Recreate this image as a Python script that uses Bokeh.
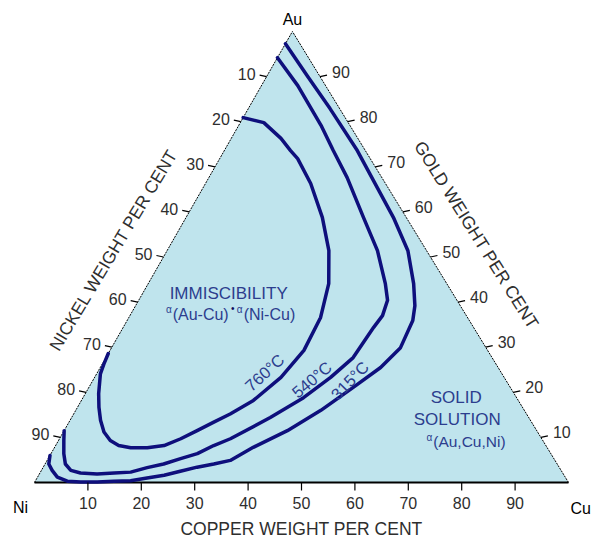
import numpy as np
from bokeh.plotting import figure
from bokeh.models import Range1d
from bokeh.embed import file_html
from bokeh.resources import INLINE
from bokeh.core.properties import value

# ---- data: isotherms as (Cu wt%, Au wt%); Ni = 100 - Cu - Au ----
iso760_cu = [0, 4.4, 9.3, 12.4, 14.6, 19.7, 25.5, 30.3, 33.8, 35.9, 36.3, 34.9, 32.2,
             29.3, 27.1, 24.9, 22.7, 20.3, 17.4, 14.3, 11.8, 9.7, 7.6, 5.7, 4.0, 2.5, 0.7, 0.3, 0]
iso760_au = [80.9, 79.8, 76.3, 73.6, 71.8, 66.3, 58.8, 51.4, 44.1, 36.6, 29.3, 23.3, 18.2,
             15.2, 13.4, 11.5, 9.7, 8.2, 7.7, 7.7, 8.2, 9.3, 11.2, 13.8, 16.7, 19.7, 24.1, 26.3, 28.6]

iso540_cu = [0, 6.8, 15.4, 20.4, 25.9, 33.2, 39.4, 44.4, 46.6, 47.3, 46.9, 46.3, 44.2, 41.3,
             37.2, 32.0, 29.6, 27.4, 24.8, 22.2, 19.5, 16.9, 13.9, 10.8, 7.6, 5.5, 3.8, 2.4, 1.0, 0]
iso540_au = [94.2, 88.0, 79.2, 73.6, 67.6, 58.8, 51.4, 44.1, 40.4, 37.0, 34.4, 27.7, 23.3, 18.8,
             14.4, 9.7, 8.2, 6.4, 5.3, 4.1, 3.3, 2.3, 2.1, 1.9, 2.1, 2.7, 4.1, 6.4, 9.3, 11.5]

iso315_cu = [0, 7.5, 15.3, 24.9, 32.6, 38.8, 45.1, 49.7, 52.3, 53.5, 54.1, 52.5, 49.5, 45.9,
             41.8, 37.2, 34.3, 31.6, 28.8, 26.1, 23.5, 20.6, 17.8, 14.7, 11.7, 8.6, 6.0, 3.7,
             2.0, 0.7, 0]
iso315_au = [97.3, 90.2, 82.9, 73.6, 65.4, 58.8, 51.4, 44.1, 39.2, 35.9, 29.9, 25.5, 21.1, 16.0,
             11.5, 7.8, 4.9, 4.1, 3.4, 2.5, 1.6, 1.0, 0.4, 0.3, 0.1, 0.1, 0.3, 1.2,
             2.7, 4.1, 6.0]

tick_values = [10, 20, 30, 40, 50, 60, 70, 80, 90]
tick_labels = [str(t) for t in tick_values]

# ---- ternary transform ----
K = 0.483            # horizontal position of the Au apex (fraction of base)
SX, SY = 5.34, 4.51  # pixels per unit in x and y


def tx(cu, au):
    return np.asarray(cu, dtype=float) + K * np.asarray(au, dtype=float)


def ty(cu, au):
    return np.asarray(au, dtype=float) + 0 * np.asarray(cu, dtype=float)


FONT = value("Liberation Sans")
BLUE_TXT = "#2c3d8e"
LINE = "#0e0f7c"
FILL = "#bfe4ed"
INK = "#2e2e2e"

p = figure(width=591, height=539,
           x_range=Range1d(-34 / SX, (591 - 34) / SX),
           y_range=Range1d(-(539 - 482) / SY, 482 / SY),
           x_axis_type=None, y_axis_type=None,
           output_backend="svg", toolbar_location=None, min_border=0)
p.grid.visible = False
p.outline_line_color = None
p.background_fill_color = "white"
p.border_fill_color = "white"

# triangle
vcu = [0, 100, 0]
vau = [0, 0, 100]
p.patch(tx(vcu, vau), ty(vcu, vau), fill_color=FILL, line_color=None)
# edges
p.line(tx([0, 100], [0, 0]), ty([0, 100], [0, 0]), line_color="black", line_width=2)
p.line(tx([0, 0], [0, 100]), ty([0, 0], [0, 100]), line_color="black", line_width=1, line_dash="2 1")
p.line(tx([100, 0], [0, 100]), ty([100, 0], [0, 100]), line_color="black", line_width=1, line_dash="2 1")

# isotherms
for cu, au in [(iso760_cu, iso760_au), (iso540_cu, iso540_au), (iso315_cu, iso315_au)]:
    p.line(tx(cu, au), ty(cu, au), line_color=LINE, line_width=3.5, line_join="round", line_cap="round")

t = np.array(tick_values, dtype=float)
# left edge: Ni ticks (Cu=0, Au=100-t)
lx, ly = tx(0 * t, 100 - t), ty(0 * t, 100 - t)
p.segment(lx, ly, lx - 7 / SX, ly + 1.5 / SY, line_color="black", line_width=1.2)
p.text(lx, ly, text=tick_labels, x_offset=-11, y_offset=-3, text_align="right",
       text_baseline="middle", text_font=FONT, text_font_size="16px", text_color=INK)
# right edge: Au ticks (Au=t, Cu=100-t)
rx, ry = tx(100 - t, t), ty(100 - t, t)
p.segment(rx, ry, rx + 7 / SX, ry + 1.5 / SY, line_color="black", line_width=1.2)
p.text(rx, ry, text=tick_labels, x_offset=12, y_offset=-5, text_align="left",
       text_baseline="middle", text_font=FONT, text_font_size="16px", text_color=INK)
# bottom: Cu ticks
bx, by = tx(t, 0 * t), ty(t, 0 * t)
p.segment(bx, by, bx, by - 8 / SY, line_color="black", line_width=1.2)
p.text(bx, by, text=tick_labels, x_offset=0, y_offset=14, text_align="center",
       text_baseline="top", text_font=FONT, text_font_size="16px", text_color=INK)

# vertex labels
p.text(tx([0], [100]), ty([0], [100]), text=["Au"], y_offset=-12, text_align="center",
       text_baseline="middle", text_font=FONT, text_font_size="16px", text_color="black")
p.text(tx([0], [0]), ty([0], [0]), text=["Ni"], x_offset=-14, y_offset=25, text_align="center",
       text_baseline="middle", text_font=FONT, text_font_size="16px", text_color="black")
p.text(tx([100], [0]), ty([100], [0]), text=["Cu"], x_offset=2, y_offset=26, text_align="left",
       text_baseline="middle", text_font=FONT, text_font_size="16px", text_color="black")

# axis titles
p.text(tx([50], [0]), ty([50], [0]), text=["COPPER WEIGHT PER CENT"], y_offset=46,
       text_align="center", text_baseline="middle", text_font=FONT, text_font_size="17.5px",
       text_color=INK)
p.text(tx([0], [50]), ty([0], [50]), text=["NICKEL WEIGHT PER CENT"], x_offset=-50, y_offset=-7,
       angle=1.03, text_align="center", text_baseline="middle", text_font=FONT,
       text_font_size="17.5px", text_color=INK)
p.text(tx([50], [50]), ty([50], [50]), text=["GOLD WEIGHT PER CENT"], x_offset=46, y_offset=-22,
       angle=-1.01, text_align="center", text_baseline="middle", text_font=FONT,
       text_font_size="17.5px", text_color=INK)

# region labels
ax, ay = tx([17.6], [40.4]), ty([17.6], [40.4])
p.text(ax, ay, text=["IMMISCIBILITY"], x_offset=-4, y_offset=-7, text_align="center",
       text_baseline="middle", text_font=FONT, text_font_size="17px", text_color=BLUE_TXT)
p.text(ax, ay, text=["(Au-Cu)"], x_offset=-4, y_offset=14, text_align="right",
       text_baseline="middle", text_font=FONT, text_font_size="16px", text_color=BLUE_TXT)
p.text(ax, ay, text=["α"], x_offset=-61, y_offset=9, text_align="right",
       text_baseline="middle", text_font=FONT, text_font_size="10px", text_color=BLUE_TXT)
p.text(ax, ay, text=["•"], x_offset=0, y_offset=8, text_align="center",
       text_baseline="middle", text_font=FONT, text_font_size="10px", text_color="#0e0f5c")
p.text(ax, ay, text=["α"], x_offset=7, y_offset=9, text_align="center",
       text_baseline="middle", text_font=FONT, text_font_size="10px", text_color=BLUE_TXT)
p.text(ax, ay, text=["(Ni-Cu)"], x_offset=11, y_offset=14, text_align="left",
       text_baseline="middle", text_font=FONT, text_font_size="16px", text_color=BLUE_TXT)

sx_, sy_ = tx([72.4], [14.0]), ty([72.4], [14.0])
p.text(sx_, sy_, text=["SOLID"], x_offset=-1, y_offset=-22, text_align="center",
       text_baseline="middle", text_font=FONT, text_font_size="17px", text_color=BLUE_TXT)
p.text(sx_, sy_, text=["SOLUTION"], x_offset=0, y_offset=0, text_align="center",
       text_baseline="middle", text_font=FONT, text_font_size="17px", text_color=BLUE_TXT)
p.text(sx_, sy_, text=["(Au,Cu,Ni)"], x_offset=-24, y_offset=22, text_align="left",
       text_baseline="middle", text_font=FONT, text_font_size="15.5px", text_color=BLUE_TXT)
p.text(sx_, sy_, text=["α"], x_offset=-25, y_offset=18, text_align="right",
       text_baseline="middle", text_font=FONT, text_font_size="10px", text_color=BLUE_TXT)

# isotherm labels
iso_lab_cu = [31.3, 40.9, 48.1]
iso_lab_au = [24.4, 22.8, 22.6]
iso_lab_txt = ["760°C", "540°C", "315°C"]
iso_lab_ang = [0.74, 0.70, 0.80]
p.text(tx(iso_lab_cu, iso_lab_au), ty(iso_lab_cu, iso_lab_au), text=iso_lab_txt,
       angle=iso_lab_ang, text_align="center", text_baseline="middle", text_font=FONT,
       text_font_size="16.5px", text_color=BLUE_TXT)

open("out.html", "w").write(file_html(p, INLINE))
